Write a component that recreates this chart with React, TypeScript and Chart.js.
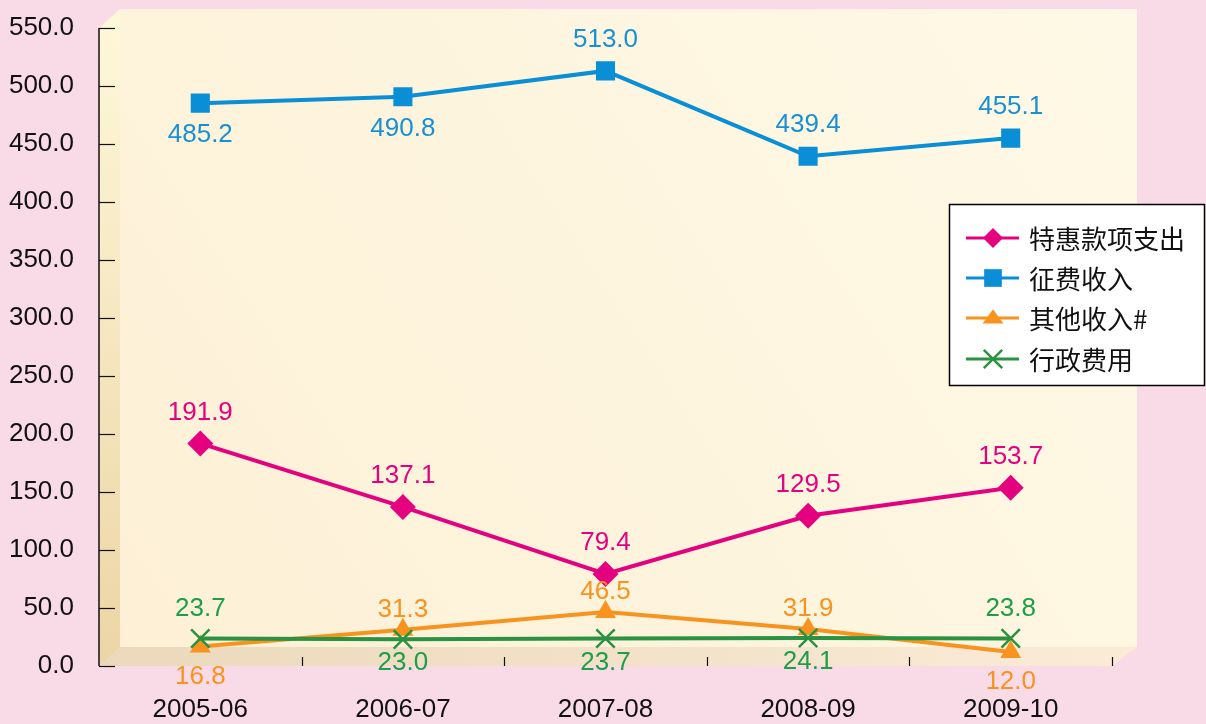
import React, { useEffect, useRef } from 'react';
import { Chart, registerables } from 'chart.js';

Chart.register(...registerables);

// ---- Data ----
const categories = ['2005-06', '2006-07', '2007-08', '2008-09', '2009-10'];
const specialPayments = [191.9, 137.1, 79.4, 129.5, 153.7];
const levyIncome = [485.2, 490.8, 513.0, 439.4, 455.1];
const otherIncome = [16.8, 31.3, 46.5, 31.9, 12.0];
const adminExpenses = [23.7, 23.0, 23.7, 24.1, 23.8];
const seriesNames = ['特惠款项支出', '征费收入', '其他收入#', '行政费用'];
const yMin = 0;
const yMax = 550;
const yStep = 50;

// ---- Styles ----
const PINK_BG = '#f9dbe7';
const FONT = '"Liberation Sans", Arial, sans-serif';
const CJK = '"Noto Sans CJK SC", "Noto Sans", sans-serif';
const FS = 26;

const seriesStyle = [
  { line: '#e5007f', text: '#e5007f', point: 'rectRot', radius: 13, legendRadius: 10 },
  { line: '#0a8fd6', text: '#1a90d4', point: 'rect', radius: 13.5, legendRadius: 12.5 },
  { line: '#f7931e', text: '#f7931e', point: 'triangle', radius: 12, legendRadius: 11 },
  { line: '#2a9240', text: '#1e9e48', point: 'crossRot', radius: 13, legendRadius: 13 },
];
// label placement per point: 1 = above, -1 = below
const labelSide = [
  [1, 1, 1, 1, 1],
  [-1, -1, 1, 1, 1],
  [-1, 1, 1, 1, -1],
  [1, -1, -1, -1, 1],
];
const labelGap = [
  { above: 31, below: 31 },
  { above: 31, below: 32 },
  { above: 20, below: 30 },
  { above: 30, below: 24 },
];

const backgroundPlugin = {
  id: 'bg3d',
  beforeDraw(chart: any) {
    const { ctx, chartArea: a, width, height } = chart;
    ctx.save();
    ctx.fillStyle = PINK_BG;
    ctx.fillRect(0, 0, width, height);
    const dxL = 21;
    const dxR = 25;
    const dy = 19;
    // back wall
    const bg = ctx.createLinearGradient(a.left + dxL, a.bottom, a.right + dxR, a.top - dy);
    bg.addColorStop(0, '#fdf0d6');
    bg.addColorStop(1, '#fef9e6');
    ctx.fillStyle = bg;
    ctx.fillRect(a.left + dxL, a.top - dy, a.right + dxR - (a.left + dxL), a.bottom - a.top);
    // left wall
    const lg = ctx.createLinearGradient(0, a.top, 0, a.bottom);
    lg.addColorStop(0, '#fef7d8');
    lg.addColorStop(1, '#ecd5a5');
    ctx.fillStyle = lg;
    ctx.beginPath();
    ctx.moveTo(a.left, a.top);
    ctx.lineTo(a.left + dxL, a.top - dy);
    ctx.lineTo(a.left + dxL, a.bottom - dy);
    ctx.lineTo(a.left, a.bottom);
    ctx.closePath();
    ctx.fill();
    // floor
    const fg = ctx.createLinearGradient(a.left, 0, a.right, 0);
    fg.addColorStop(0, '#ead9bb');
    fg.addColorStop(1, '#fbead6');
    ctx.fillStyle = fg;
    ctx.beginPath();
    ctx.moveTo(a.left, a.bottom);
    ctx.lineTo(a.left + dxL, a.bottom - dy);
    ctx.lineTo(a.right + dxR, a.bottom - dy);
    ctx.lineTo(a.right, a.bottom);
    ctx.closePath();
    ctx.fill();
    ctx.restore();
  },
  beforeDatasetsDraw(chart: any) {
    const { ctx, chartArea: a, scales } = chart;
    const y = scales.y;
    ctx.save();
    ctx.strokeStyle = '#111';
    ctx.lineWidth = 1.5;
    ctx.beginPath();
    ctx.moveTo(a.left, a.top);
    ctx.lineTo(a.left, a.bottom);
    ctx.stroke();
    ctx.lineWidth = 1.2;
    for (let v = yMin; v <= yMax; v += yStep) {
      const py = Math.round(y.getPixelForValue(v)) + 0.5;
      ctx.beginPath();
      ctx.moveTo(a.left, py);
      ctx.lineTo(a.left + 16, py);
      ctx.stroke();
    }
    const n = categories.length;
    const w = (a.right - a.left) / n;
    for (let i = 1; i <= n; i++) {
      const px = Math.round(a.left + w * i) + 0.5;
      ctx.beginPath();
      ctx.moveTo(px, a.bottom - 9);
      ctx.lineTo(px, a.bottom);
      ctx.stroke();
    }
    ctx.restore();
  },
  afterDatasetsDraw(chart: any) {
    const { ctx } = chart;
    ctx.save();
    ctx.font = `${FS}px ${FONT}`;
    ctx.textAlign = 'center';
    ctx.textBaseline = 'middle';
    chart.data.datasets.forEach((ds: any, di: number) => {
      const meta = chart.getDatasetMeta(di);
      ctx.fillStyle = seriesStyle[di].text;
      meta.data.forEach((pt: any, i: number) => {
        const side = labelSide[di][i];
        const off = side > 0 ? -labelGap[di].above : labelGap[di].below;
        ctx.fillText(Number(ds.data[i]).toFixed(1), pt.x, pt.y + off);
      });
    });
    ctx.restore();
  },
  afterDraw(chart: any) {
    const { ctx } = chart;
    ctx.save();
    const bx = 949.5;
    const by = 204.5;
    const bw = 255;
    const bh = 181;
    ctx.fillStyle = '#ffffff';
    ctx.fillRect(bx, by, bw, bh);
    ctx.strokeStyle = '#000';
    ctx.lineWidth = 1.5;
    ctx.strokeRect(bx, by, bw, bh);
    const rows = [238, 278, 318, 359];
    seriesNames.forEach((name, i) => {
      const st = seriesStyle[i];
      const cy = rows[i];
      ctx.strokeStyle = st.line;
      ctx.lineWidth = 3;
      ctx.beginPath();
      ctx.moveTo(966, cy);
      ctx.lineTo(1019, cy);
      ctx.stroke();
      const cx = 993;
      const r = st.legendRadius;
      ctx.fillStyle = st.line;
      ctx.beginPath();
      if (st.point === 'rectRot') {
        ctx.moveTo(cx, cy - r);
        ctx.lineTo(cx + r, cy);
        ctx.lineTo(cx, cy + r);
        ctx.lineTo(cx - r, cy);
        ctx.closePath();
        ctx.fill();
      } else if (st.point === 'rect') {
        const s = r * Math.SQRT1_2;
        ctx.fillRect(cx - s, cy - s, 2 * s, 2 * s);
      } else if (st.point === 'triangle') {
        ctx.moveTo(cx, cy - r * 0.8);
        ctx.lineTo(cx + r * 0.95, cy + r * 0.5);
        ctx.lineTo(cx - r * 0.95, cy + r * 0.5);
        ctx.closePath();
        ctx.fill();
      } else {
        const s = r * Math.SQRT1_2;
        ctx.lineWidth = 2.5;
        ctx.beginPath();
        ctx.moveTo(cx - s, cy - s);
        ctx.lineTo(cx + s, cy + s);
        ctx.moveTo(cx + s, cy - s);
        ctx.lineTo(cx - s, cy + s);
        ctx.stroke();
      }
      ctx.fillStyle = '#111';
      ctx.font = `26px ${CJK}`;
      ctx.textAlign = 'left';
      ctx.textBaseline = 'middle';
      ctx.fillText(name, 1029, cy + 1);
    });
    ctx.restore();
  },
};

export default function App() {
  const canvasRef = useRef<HTMLCanvasElement | null>(null);

  useEffect(() => {
    const canvas = canvasRef.current;
    if (!canvas) return;
    const allSeries = [specialPayments, levyIncome, otherIncome, adminExpenses];
    const chart = new Chart(canvas, {
      type: 'line',
      data: {
        labels: categories,
        datasets: allSeries.map((d, i) => ({
          label: seriesNames[i],
          data: d,
          borderColor: seriesStyle[i].line,
          backgroundColor: seriesStyle[i].line,
          pointBackgroundColor: seriesStyle[i].line,
          pointBorderColor: seriesStyle[i].line,
          pointStyle: seriesStyle[i].point as any,
          pointRadius: seriesStyle[i].radius,
          pointBorderWidth: i === 3 ? 2.5 : 0,
          borderWidth: 4,
          tension: 0,
          fill: false,
          order: 4 - i,
        })),
      },
      options: {
        responsive: false,
        animation: false,
        devicePixelRatio: 1,
        layout: { autoPadding: false, padding: { top: 28, right: 94, left: 0, bottom: 0 } },
        plugins: {
          legend: { display: false },
          tooltip: { enabled: false },
        },
        scales: {
          x: {
            type: 'category',
            offset: true,
            grid: { display: false, drawTicks: false },
            border: { display: false },
            ticks: {
              color: '#111',
              font: { size: FS, family: FONT },
              padding: 28,
              maxRotation: 0,
            },
            afterFit: (s: any) => {
              s.height = 58;
              s.paddingLeft = 0;
              s.paddingRight = 0;
            },
          },
          y: {
            min: yMin,
            max: yMax,
            grid: { display: false, drawTicks: false },
            border: { display: false },
            ticks: {
              stepSize: yStep,
              color: '#111',
              font: { size: FS, family: FONT },
              padding: 25,
              callback: (v: any) => Number(v).toFixed(1),
            },
            afterFit: (s: any) => {
              s.width = 99;
              s.paddingTop = 0;
              s.paddingBottom = 0;
            },
          },
        },
      },
      plugins: [backgroundPlugin],
    });
    return () => chart.destroy();
  }, []);

  return (
    <div
      style={{
        position: 'fixed',
        left: 0,
        top: 0,
        width: 1206,
        height: 724,
        background: PINK_BG,
      }}
    >
      <canvas ref={canvasRef} width={1206} height={724} style={{ display: 'block' }} />
    </div>
  );
}
